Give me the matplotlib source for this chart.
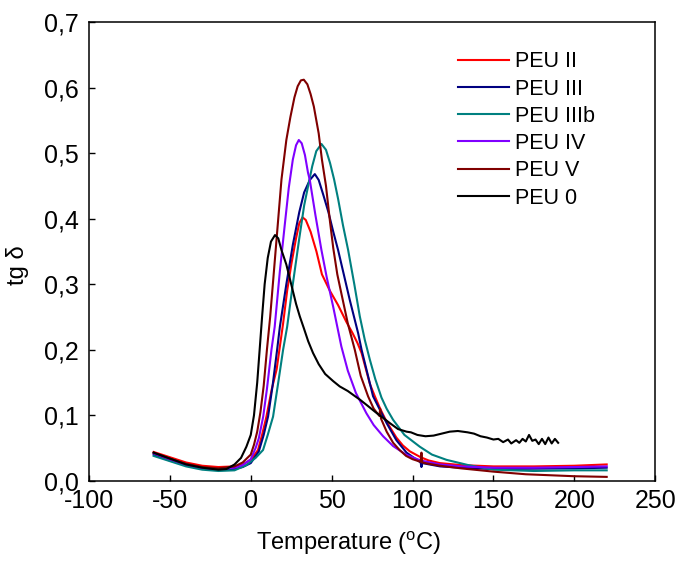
import matplotlib
matplotlib.use("Agg")
import matplotlib.pyplot as plt
from matplotlib.ticker import FuncFormatter

plt.rcParams["font.family"] = ["Liberation Sans", "DejaVu Sans"]
plt.rcParams["mathtext.fontset"] = "custom"
plt.rcParams["mathtext.rm"] = "Liberation Sans"
plt.rcParams["axes.unicode_minus"] = False

# values (temperature in degC, tan delta)
peu2_t = [-60, -50, -40, -30, -20, -10, -5, 0, 4.5, 7, 9.7, 13, 16, 18, 20, 22.5, 25.2, 28, 30,
          32, 34, 37, 40.6, 44, 48.9, 54, 59, 63, 66, 68.5, 71, 73.6, 76.7, 80, 83, 86, 90, 94,
          98.3, 105, 110, 117, 130, 150, 175, 200, 220]
peu2_y = [0.044, 0.036, 0.028, 0.023, 0.021, 0.022, 0.025, 0.032, 0.047, 0.07, 0.098, 0.14, 0.17,
          0.205, 0.24, 0.29, 0.332, 0.37, 0.393, 0.402, 0.398, 0.38, 0.35, 0.315, 0.29, 0.268,
          0.243, 0.225, 0.21, 0.195, 0.172, 0.148, 0.129, 0.11, 0.095, 0.082, 0.066, 0.054,
          0.045, 0.036, 0.031, 0.027, 0.024, 0.022, 0.022, 0.023, 0.025]

peu3_t = [-60, -50, -40, -30, -20, -10, -5, 0, 5, 8, 10.7, 13.5, 16.3, 18, 22, 26, 30, 33, 36.5,
          39.6, 42, 45, 48, 51, 54, 61.2, 66.4, 68.5, 75.6, 84, 90, 96.3, 105, 105.5, 106, 117,
          130, 150, 200, 220]
peu3_y = [0.04, 0.031, 0.024, 0.019, 0.017, 0.018, 0.021, 0.027, 0.045, 0.07, 0.098, 0.145, 0.2,
          0.235, 0.3, 0.36, 0.41, 0.44, 0.459, 0.468, 0.459, 0.435, 0.41, 0.38, 0.352, 0.276,
          0.225, 0.2, 0.129, 0.088, 0.062, 0.043, 0.028, 0.021, 0.027, 0.022, 0.02, 0.018, 0.019,
          0.02]

peu3b_t = [-60, -50, -40, -30, -20, -10, -2.7, 3, 7.6, 10.5, 13.8, 17, 20, 22.5, 26, 30, 33,
           35.4, 38, 40.5, 43.7, 46.5, 49, 51.5, 54, 57, 60.2, 64, 67.4, 70.5, 73.6, 77, 80.8,
           84, 88, 95, 104.5, 112, 121, 134.4, 150, 175, 200, 220]
peu3b_y = [0.038, 0.03, 0.022, 0.017, 0.015, 0.016, 0.024, 0.035, 0.047, 0.07, 0.098, 0.15, 0.2,
           0.235, 0.3, 0.37, 0.42, 0.449, 0.48, 0.503, 0.514, 0.505, 0.485, 0.46, 0.43, 0.39,
           0.352, 0.3, 0.251, 0.215, 0.185, 0.155, 0.127, 0.11, 0.093, 0.07, 0.052, 0.04, 0.032,
           0.024, 0.017, 0.015, 0.016, 0.016]

peu4_t = [-60, -50, -40, -30, -20, -10, -5, 0, 3, 5, 7.7, 10, 12.8, 14.8, 18, 21, 23.5, 26, 28,
          29.7, 31.5, 33.5, 35.4, 36.5, 40, 43.7, 47, 51, 53.5, 56, 60, 65, 71.5, 76, 81.8, 88,
          96, 105, 117, 130, 150, 175, 200, 220]
peu4_y = [0.042, 0.033, 0.025, 0.02, 0.018, 0.02, 0.024, 0.033, 0.05, 0.065, 0.098, 0.14, 0.2,
          0.235, 0.32, 0.39, 0.447, 0.49, 0.512, 0.52, 0.515, 0.497, 0.47, 0.459, 0.405, 0.352,
          0.31, 0.265, 0.235, 0.205, 0.168, 0.134, 0.103, 0.085, 0.068, 0.053, 0.04, 0.031,
          0.025, 0.022, 0.02, 0.02, 0.021, 0.022]

peu5_t = [-60, -50, -40, -30, -20, -10, -5, 0, 2, 4, 6, 8, 10, 12, 14, 16, 19, 22, 24.5, 27, 29,
          31, 32.8, 35, 37, 39, 42, 44, 46.5, 49, 51, 53.5, 56, 60, 64.3, 68, 72.5, 76, 79.5, 80,
          80.5, 84, 88, 92, 96, 100, 105, 105.5, 106, 110, 117, 130, 150, 170, 200, 220]
peu5_y = [0.043, 0.034, 0.026, 0.021, 0.019, 0.022, 0.028, 0.04, 0.055, 0.075, 0.105, 0.145, 0.2,
          0.25, 0.31, 0.37, 0.46, 0.52, 0.555, 0.585, 0.602, 0.611, 0.612, 0.605, 0.59, 0.571,
          0.53, 0.49, 0.45, 0.395, 0.355, 0.315, 0.286, 0.24, 0.2, 0.16, 0.129, 0.11, 0.099,
          0.11, 0.095, 0.075, 0.058, 0.047, 0.038, 0.033, 0.029, 0.043, 0.028, 0.026, 0.023,
          0.019, 0.014, 0.01, 0.007, 0.006]

peu0_t = [-60, -50, -40, -30, -20, -15, -10, -6, -2.7, 0, 2, 4, 5.5, 7, 8.6, 10.5, 12.5, 15, 17,
          19, 22, 25, 28, 30.3, 32.8, 35.5, 38.5, 42, 46, 51, 55, 60, 64.5, 67.4, 72, 77, 81.8,
          86, 91, 96.3, 99, 103, 108, 113, 118, 123, 128, 134, 138, 142, 146, 150, 153, 156,
          159, 161, 164, 166, 168, 170, 172, 174, 176, 178, 180, 182, 184, 186, 188, 190]
peu0_y = [0.043, 0.034, 0.025, 0.02, 0.017, 0.018, 0.025, 0.035, 0.052, 0.07, 0.1, 0.15, 0.2,
          0.25, 0.3, 0.34, 0.365, 0.375, 0.37, 0.352, 0.33, 0.3, 0.27, 0.251, 0.233, 0.213,
          0.195, 0.178, 0.163, 0.152, 0.144, 0.137, 0.129, 0.124, 0.115, 0.105, 0.096, 0.088,
          0.079, 0.075, 0.074, 0.07, 0.068, 0.069, 0.072, 0.075, 0.076, 0.074, 0.072, 0.068,
          0.066, 0.063, 0.064, 0.059, 0.063, 0.057, 0.062, 0.058, 0.064, 0.06, 0.07, 0.061,
          0.063, 0.056, 0.064, 0.056, 0.066, 0.057, 0.064, 0.058]

x_ticks = [-100, -50, 0, 50, 100, 150, 200, 250]
y_ticks = [0.0, 0.1, 0.2, 0.3, 0.4, 0.5, 0.6, 0.7]

series = [
    ("PEU II", peu2_t, peu2_y, "#ff0000"),
    ("PEU III", peu3_t, peu3_y, "#000080"),
    ("PEU IIIb", peu3b_t, peu3b_y, "#008080"),
    ("PEU IV", peu4_t, peu4_y, "#8000ff"),
    ("PEU V", peu5_t, peu5_y, "#800000"),
    ("PEU 0", peu0_t, peu0_y, "#000000"),
]

fig = plt.figure(figsize=(6.79, 5.65), dpi=100)
ax = fig.add_axes([0.131, 0.149, 0.834, 0.812])

for label, t, y, color in series:
    ax.plot(t, y, color=color, linewidth=1.5, label=label)

ax.set_xlim(-100, 250)
ax.set_ylim(0, 0.7)
ax.set_xticks(x_ticks)
ax.set_yticks(y_ticks)
ax.yaxis.set_major_formatter(FuncFormatter(lambda v, pos: f"{v:.1f}".replace(".", ",")))
ax.tick_params(direction="in", length=4.5, width=1.0, labelsize=18, top=False, right=False)
ax.tick_params(axis="y", pad=7)
ax.tick_params(axis="x", pad=6)
for s in ax.spines.values():
    s.set_linewidth(1.1)

ax.set_xlabel(r"Temperature ($^{\mathrm{o}}$C)", fontsize=17)
ax.set_ylabel("tg δ", fontsize=17)
ax.xaxis.set_label_coords(0.458, -0.105)
ax.yaxis.set_label_coords(-0.105, 0.47)

ax.legend(loc="upper left", bbox_to_anchor=(0.636, 0.955), frameon=False, fontsize=15.5,
          handlelength=2.37, handletextpad=0.3, labelspacing=0.29, borderaxespad=0)

fig.savefig("out.png", dpi=100)
